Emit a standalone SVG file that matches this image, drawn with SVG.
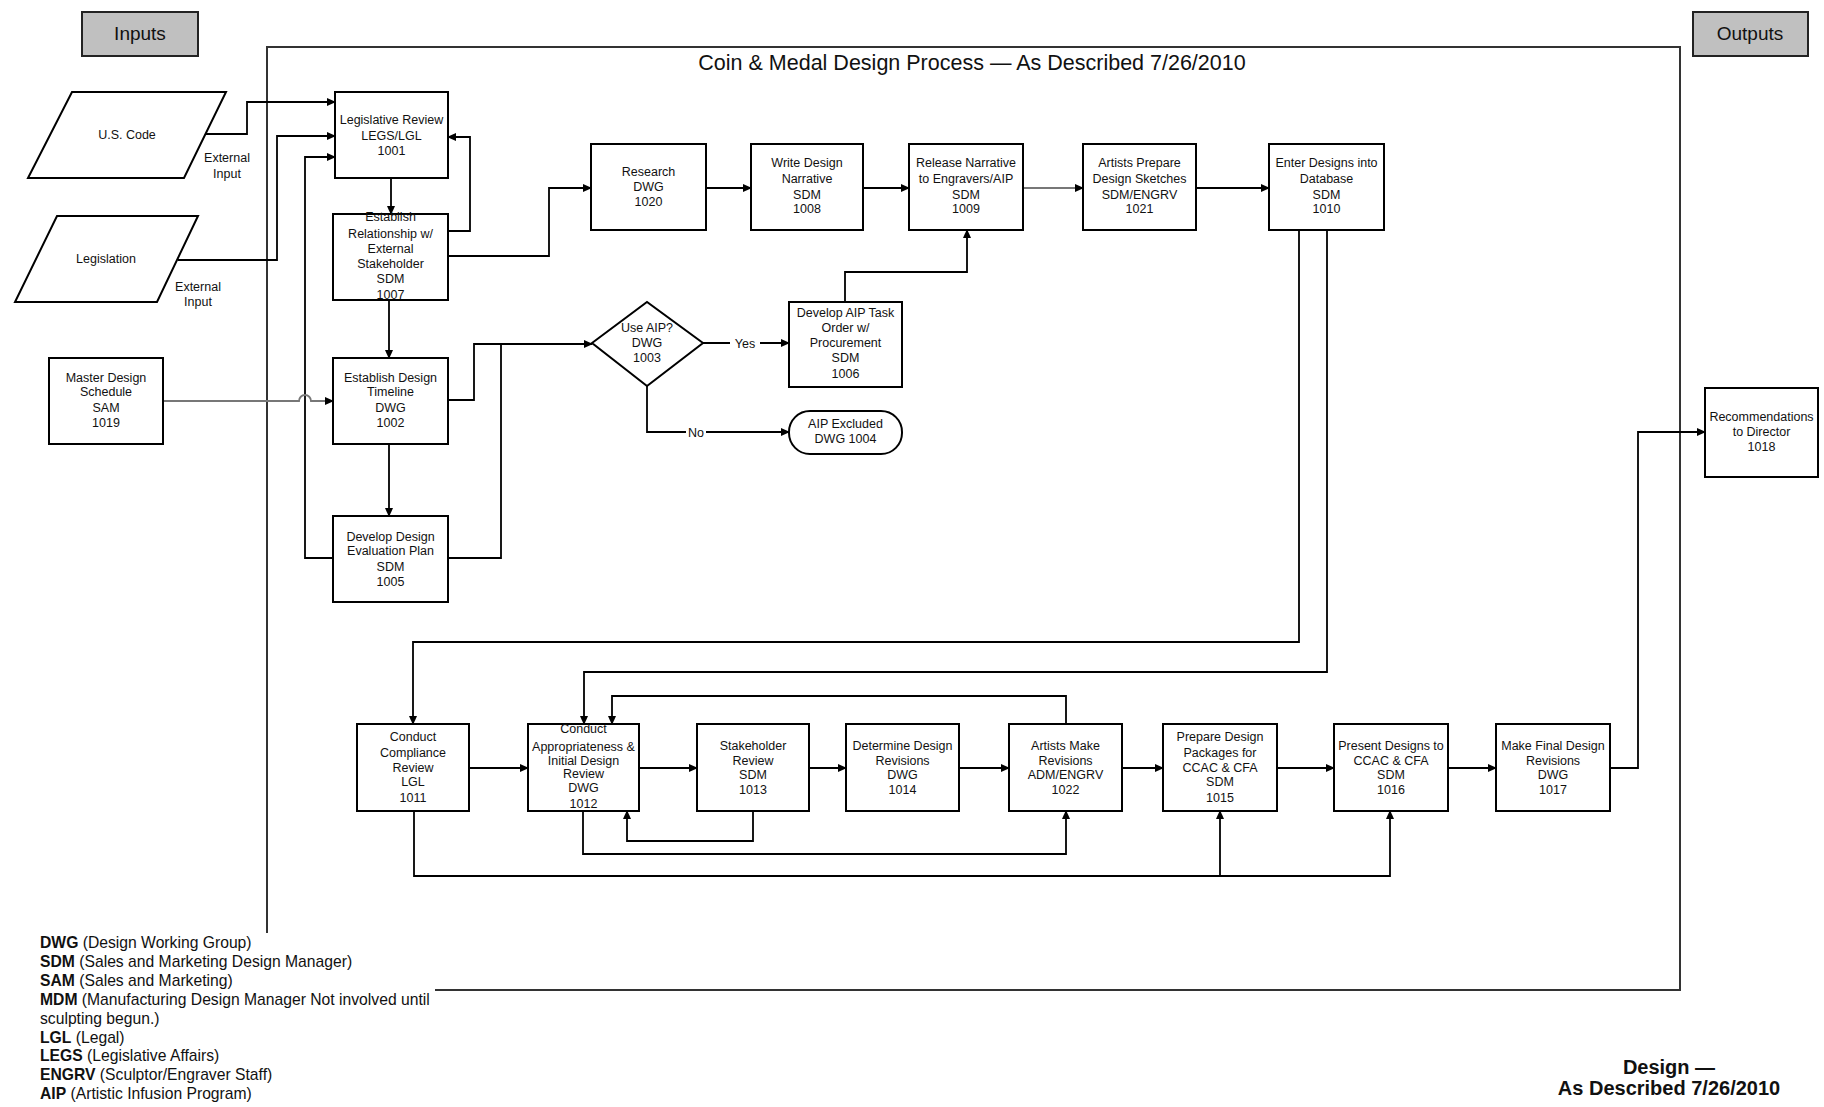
<svg xmlns="http://www.w3.org/2000/svg" width="1824" height="1107" viewBox="0 0 1824 1107">
<defs>
<marker id="ah" markerWidth="9" markerHeight="8" refX="8" refY="4" orient="auto" markerUnits="userSpaceOnUse"><path d="M0,0 L9,4 L0,8 z" fill="#000"/></marker>
<style>
.box{fill:#fff;stroke:#000;stroke-width:2}
.hdr{fill:#c0c0c0;stroke:#222;stroke-width:2}
.t{font-family:"Liberation Sans",Arial,sans-serif;font-size:12.5px;fill:#111;text-anchor:middle}
.lbl{font-family:"Liberation Sans",Arial,sans-serif;font-size:12.5px;fill:#111;text-anchor:middle}
.c{fill:none;stroke:#000;stroke-width:1.8;marker-end:url(#ah)}
.cn{fill:none;stroke:#000;stroke-width:1.8}
.cg{fill:none;stroke:#777;stroke-width:1.8;marker-end:url(#ah)}
.leg{font-family:"Liberation Sans",Arial,sans-serif;font-size:15.7px;fill:#111}
.leg tspan.b{font-weight:bold}
</style>
</defs>
<rect width="1824" height="1107" fill="#fff"/>
<path d="M267,933 V47 H1680 V990 H435" fill="none" stroke="#333" stroke-width="2"/>
<text x="972" y="70" font-family="Liberation Sans, Arial, sans-serif" font-size="21.5" text-anchor="middle" fill="#111">Coin &amp; Medal Design Process — As Described 7/26/2010</text>

<g id="inputs"><rect class="hdr" x="82" y="12" width="116" height="44"/><text x="140" y="40" font-family="Liberation Sans, Arial, sans-serif" font-size="19" text-anchor="middle" fill="#111">Inputs</text></g>
<g id="outputs"><rect class="hdr" x="1693" y="12" width="115" height="44"/><text x="1750" y="40" font-family="Liberation Sans, Arial, sans-serif" font-size="19" text-anchor="middle" fill="#111">Outputs</text></g>

<g id="connectors">
<path class="c" d="M205,134 H247 V102 H335"/>
<path class="c" d="M178,260 H277 V136 H335"/>
<path class="c" d="M333,558 H305 V157 H335"/>
<path class="c" d="M391,178 V214"/>
<path class="c" d="M448,231 H470 V137 H448"/>
<path class="c" d="M448,256 H549 V188 H591"/>
<path class="c" d="M389,300 V358"/>
<path class="cg" d="M163,401 H299 A6,6 0 0 1 311,401 H333"/>
<path class="c" d="M389,444 V516"/>
<path class="c" d="M448,400 H474 V344 H592"/>
<path class="cn" d="M448,558 H501 V344"/>
<path class="c" d="M706,188 H751"/>
<path class="c" d="M863,188 H909"/>
<path class="cg" d="M1023,188 H1083"/>
<path class="c" d="M1196,188 H1269"/>
<path class="c" d="M703,343 H789"/>
<path class="c" d="M647,386 V432 H789"/>
<path class="c" d="M845,302 V272 H967 V230"/>
<path class="c" d="M1299,230 V642 H413 V724"/>
<path class="c" d="M1327,230 V672 H584 V724"/>
<path class="c" d="M469,768 H528"/>
<path class="c" d="M639,768 H697"/>
<path class="c" d="M809,768 H846"/>
<path class="c" d="M959,768 H1009"/>
<path class="c" d="M1122,768 H1163"/>
<path class="c" d="M1277,768 H1334"/>
<path class="c" d="M1448,768 H1496"/>
<path class="c" d="M1610,768 H1638 V432 H1705"/>
<path class="c" d="M753,811 V841 H627 V811"/>
<path class="c" d="M583,811 V854 H1066 V811"/>
<path class="c" d="M414,811 V876 H1390 V811"/>
<path class="c" d="M1220,876 V811"/>
<path class="c" d="M1066,724 V696 H612 V724"/>
<rect x="730" y="335" width="30" height="16" fill="#fff"/>
<text class="lbl" x="745" y="348">Yes</text>
<rect x="686" y="424" width="20" height="16" fill="#fff"/>
<text class="lbl" x="696" y="437">No</text>
</g>

<g id="uscode"><polygon class="box" points="72,92 226,92 184,178 28,178"/><text class="t" x="127" y="139">U.S. Code</text><text class="t" x="227" y="162">External</text><text class="t" x="227" y="178">Input</text></g>
<g id="legislation"><polygon class="box" points="57,216 198,216 157,302 15,302"/><text class="t" x="106" y="263">Legislation</text><text class="t" x="198" y="291">External</text><text class="t" x="198" y="306">Input</text></g>
<g id="n1019"><rect class="box" x="49" y="358" width="114" height="86"/><text class="t" x="106" y="382">Master Design</text><text class="t" x="106" y="396">Schedule</text><text class="t" x="106" y="412">SAM</text><text class="t" x="106" y="427">1019</text></g>

<g id="n1001"><rect class="box" x="335" y="92" width="113" height="86"/><text class="t" x="391.5" y="124">Legislative Review</text><text class="t" x="391.5" y="140">LEGS/LGL</text><text class="t" x="391.5" y="155">1001</text></g>
<g id="n1007"><rect class="box" x="333" y="214" width="115" height="86"/><text class="t" x="390.5" y="221">Establish</text><text class="t" x="390.5" y="238">Relationship w/</text><text class="t" x="390.5" y="253">External</text><text class="t" x="390.5" y="268">Stakeholder</text><text class="t" x="390.5" y="283">SDM</text><text class="t" x="390.5" y="299">1007</text></g>
<g id="n1002"><rect class="box" x="333" y="358" width="115" height="86"/><text class="t" x="390.5" y="382">Establish Design</text><text class="t" x="390.5" y="396">Timeline</text><text class="t" x="390.5" y="412">DWG</text><text class="t" x="390.5" y="427">1002</text></g>
<g id="n1005"><rect class="box" x="333" y="516" width="115" height="86"/><text class="t" x="390.5" y="541">Develop Design</text><text class="t" x="390.5" y="555">Evaluation Plan</text><text class="t" x="390.5" y="571">SDM</text><text class="t" x="390.5" y="586">1005</text></g>

<g id="n1020"><rect class="box" x="591" y="144" width="115" height="86"/><text class="t" x="648.5" y="176">Research</text><text class="t" x="648.5" y="191">DWG</text><text class="t" x="648.5" y="206">1020</text></g>
<g id="n1008"><rect class="box" x="751" y="144" width="112" height="86"/><text class="t" x="807" y="167">Write Design</text><text class="t" x="807" y="183">Narrative</text><text class="t" x="807" y="199">SDM</text><text class="t" x="807" y="213">1008</text></g>
<g id="n1009"><rect class="box" x="909" y="144" width="114" height="86"/><text class="t" x="966" y="167">Release Narrative</text><text class="t" x="966" y="183">to Engravers/AIP</text><text class="t" x="966" y="199">SDM</text><text class="t" x="966" y="213">1009</text></g>
<g id="n1021"><rect class="box" x="1083" y="144" width="113" height="86"/><text class="t" x="1139.5" y="167">Artists Prepare</text><text class="t" x="1139.5" y="183">Design Sketches</text><text class="t" x="1139.5" y="199">SDM/ENGRV</text><text class="t" x="1139.5" y="213">1021</text></g>
<g id="n1010"><rect class="box" x="1269" y="144" width="115" height="86"/><text class="t" x="1326.5" y="167">Enter Designs into</text><text class="t" x="1326.5" y="183">Database</text><text class="t" x="1326.5" y="199">SDM</text><text class="t" x="1326.5" y="213">1010</text></g>

<g id="n1003"><polygon class="box" points="592,343 647,302 703,343 647,386"/><text class="t" x="647" y="332">Use AIP?</text><text class="t" x="647" y="347">DWG</text><text class="t" x="647" y="362">1003</text></g>
<g id="n1006"><rect class="box" x="789" y="302" width="113" height="85"/><text class="t" x="845.5" y="317">Develop AIP Task</text><text class="t" x="845.5" y="332">Order w/</text><text class="t" x="845.5" y="347">Procurement</text><text class="t" x="845.5" y="362">SDM</text><text class="t" x="845.5" y="378">1006</text></g>
<g id="n1004"><rect class="box" x="789" y="411" width="113" height="43" rx="21" ry="21"/><text class="t" x="845.5" y="428">AIP Excluded</text><text class="t" x="845.5" y="443">DWG 1004</text></g>

<g id="n1011"><rect class="box" x="357" y="724" width="112" height="87"/><text class="t" x="413" y="741">Conduct</text><text class="t" x="413" y="757">Compliance</text><text class="t" x="413" y="772">Review</text><text class="t" x="413" y="786">LGL</text><text class="t" x="413" y="802">1011</text></g>
<g id="n1012"><rect class="box" x="528" y="724" width="111" height="87"/><text class="t" x="583.5" y="733">Conduct</text><text class="t" x="583.5" y="751">Appropriateness &amp;</text><text class="t" x="583.5" y="765">Initial Design</text><text class="t" x="583.5" y="778">Review</text><text class="t" x="583.5" y="792">DWG</text><text class="t" x="583.5" y="808">1012</text></g>
<g id="n1013"><rect class="box" x="697" y="724" width="112" height="87"/><text class="t" x="753" y="750">Stakeholder</text><text class="t" x="753" y="765">Review</text><text class="t" x="753" y="779">SDM</text><text class="t" x="753" y="794">1013</text></g>
<g id="n1014"><rect class="box" x="846" y="724" width="113" height="87"/><text class="t" x="902.5" y="750">Determine Design</text><text class="t" x="902.5" y="765">Revisions</text><text class="t" x="902.5" y="779">DWG</text><text class="t" x="902.5" y="794">1014</text></g>
<g id="n1022"><rect class="box" x="1009" y="724" width="113" height="87"/><text class="t" x="1065.5" y="750">Artists Make</text><text class="t" x="1065.5" y="765">Revisions</text><text class="t" x="1065.5" y="779">ADM/ENGRV</text><text class="t" x="1065.5" y="794">1022</text></g>
<g id="n1015"><rect class="box" x="1163" y="724" width="114" height="87"/><text class="t" x="1220" y="741">Prepare Design</text><text class="t" x="1220" y="757">Packages for</text><text class="t" x="1220" y="772">CCAC &amp; CFA</text><text class="t" x="1220" y="786">SDM</text><text class="t" x="1220" y="802">1015</text></g>
<g id="n1016"><rect class="box" x="1334" y="724" width="114" height="87"/><text class="t" x="1391" y="750">Present Designs to</text><text class="t" x="1391" y="765">CCAC &amp; CFA</text><text class="t" x="1391" y="779">SDM</text><text class="t" x="1391" y="794">1016</text></g>
<g id="n1017"><rect class="box" x="1496" y="724" width="114" height="87"/><text class="t" x="1553" y="750">Make Final Design</text><text class="t" x="1553" y="765">Revisions</text><text class="t" x="1553" y="779">DWG</text><text class="t" x="1553" y="794">1017</text></g>
<g id="n1018"><rect class="box" x="1705" y="388" width="113" height="89"/><text class="t" x="1761.5" y="421">Recommendations</text><text class="t" x="1761.5" y="436">to Director</text><text class="t" x="1761.5" y="451">1018</text></g>

<g id="legend">
<text class="leg" x="40" y="948"><tspan class="b">DWG</tspan> (Design Working Group)</text>
<text class="leg" x="40" y="967"><tspan class="b">SDM</tspan> (Sales and Marketing Design Manager)</text>
<text class="leg" x="40" y="986"><tspan class="b">SAM</tspan> (Sales and Marketing)</text>
<text class="leg" x="40" y="1005"><tspan class="b">MDM</tspan> (Manufacturing Design Manager  Not involved until</text>
<text class="leg" x="40" y="1024">sculpting begun.)</text>
<text class="leg" x="40" y="1043"><tspan class="b">LGL</tspan> (Legal)</text>
<text class="leg" x="40" y="1061"><tspan class="b">LEGS</tspan> (Legislative Affairs)</text>
<text class="leg" x="40" y="1080"><tspan class="b">ENGRV</tspan> (Sculptor/Engraver Staff)</text>
<text class="leg" x="40" y="1099"><tspan class="b">AIP</tspan> (Artistic Infusion Program)</text>
</g>
<g id="footer">
<text x="1669" y="1074" font-family="Liberation Sans, Arial, sans-serif" font-size="20" font-weight="bold" text-anchor="middle" fill="#111">Design —</text>
<text x="1669" y="1095" font-family="Liberation Sans, Arial, sans-serif" font-size="20" font-weight="bold" text-anchor="middle" fill="#111">As Described 7/26/2010</text>
</g>
</svg>
